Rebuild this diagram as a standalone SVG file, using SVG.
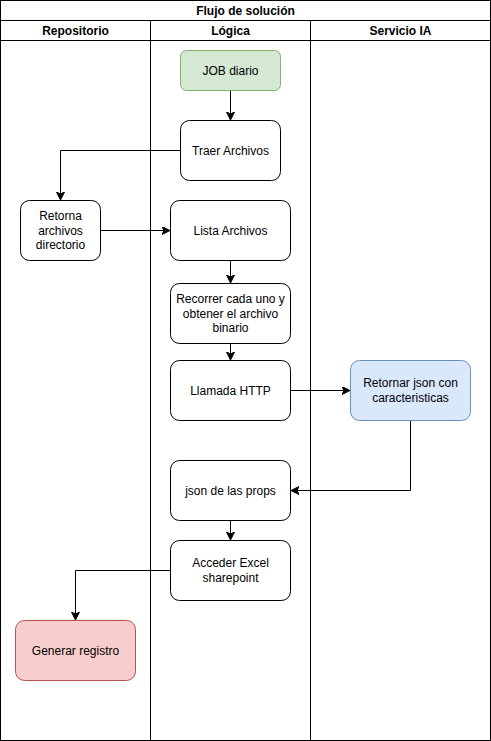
<svg xmlns="http://www.w3.org/2000/svg" width="491" height="741" viewBox="0 0 491 741">
<style>
text{font-family:"Liberation Sans",Arial,sans-serif;font-size:12px;fill:#000;text-anchor:middle}
.h{font-weight:bold}
.lane{fill:none;stroke:#000;stroke-width:1}
.n{fill:#fff;stroke:#000;stroke-width:1}
.g{fill:#d5e8d4;stroke:#82b366}
.b{fill:#dae8fc;stroke:#6c8ebf}
.r{fill:#f8cecc;stroke:#b85450}
.e{fill:none;stroke:#000;stroke-width:1;marker-end:url(#arr)}
</style>
<defs>
<marker id="arr" markerWidth="10" markerHeight="10" refX="7" refY="4" orient="auto" markerUnits="userSpaceOnUse">
<path d="M0,0 L8,4 L0,8 L2,4 Z" fill="#000" stroke="#000"/>
</marker>
</defs>
<rect width="491" height="741" fill="#fff"/>
<g id="pool">
<rect class="lane" x="0.5" y="0.5" width="490" height="740"/>
<line class="lane" x1="0.5" y1="20.5" x2="490.5" y2="20.5"/>
<line class="lane" x1="0.5" y1="40.5" x2="490.5" y2="40.5"/>
<line class="lane" x1="150.5" y1="20.5" x2="150.5" y2="740.5"/>
<line class="lane" x1="310.5" y1="20.5" x2="310.5" y2="740.5"/>
<text class="h" x="245.5" y="14.5">Flujo de solución</text>
<text class="h" x="75.5" y="34.5">Repositorio</text>
<text class="h" x="230.5" y="34.5">Lógica</text>
<text class="h" x="400.5" y="34.5">Servicio IA</text>
</g>
<g id="edges">
<path class="e" d="M230.5,90.5 V119"/>
<path class="e" d="M180.5,150.5 H60.5 V199"/>
<path class="e" d="M100.5,230.5 H169"/>
<path class="e" d="M230.5,260.5 V282"/>
<path class="e" d="M230.5,343.5 V359"/>
<path class="e" d="M290.5,390.5 H349"/>
<path class="e" d="M410.5,420.5 V490.5 H292"/>
<path class="e" d="M230.5,520.5 V539"/>
<path class="e" d="M170.5,570.5 H75.5 V619"/>
</g>
<g id="job"><rect class="g" x="180.5" y="50.5" width="100" height="40" rx="6"/><text x="230.5" y="74.5">JOB diario</text></g>
<g id="traer"><rect class="n" x="180.5" y="120.5" width="100" height="60" rx="9"/><text x="230.5" y="154.5">Traer Archivos</text></g>
<g id="retorna"><rect class="n" x="20.5" y="200.5" width="80" height="60" rx="9"/><text x="60.5" y="220">Retorna</text><text x="60.5" y="234.5">archivos</text><text x="60.5" y="249">directorio</text></g>
<g id="lista"><rect class="n" x="170.5" y="200.5" width="120" height="60" rx="9"/><text x="230.5" y="234.5">Lista Archivos</text></g>
<g id="recorrer"><rect class="n" x="170.5" y="283.5" width="120" height="60" rx="9"/><text x="230.5" y="303">Recorrer cada uno y</text><text x="230.5" y="317.5">obtener el archivo</text><text x="230.5" y="332">binario</text></g>
<g id="llamada"><rect class="n" x="170.5" y="360.5" width="120" height="60" rx="9"/><text x="230.5" y="394.5">Llamada HTTP</text></g>
<g id="retornar"><rect class="b" x="350.5" y="360.5" width="120" height="60" rx="9"/><text x="410.5" y="387">Retornar json con</text><text x="410.5" y="401.5">caracteristicas</text></g>
<g id="json"><rect class="n" x="170.5" y="460.5" width="120" height="60" rx="9"/><text x="230.5" y="494.5">json de las props</text></g>
<g id="acceder"><rect class="n" x="170.5" y="540.5" width="120" height="60" rx="9"/><text x="230.5" y="567">Acceder Excel</text><text x="230.5" y="581.5">sharepoint</text></g>
<g id="generar"><rect class="r" x="15.5" y="620.5" width="120" height="60" rx="9"/><text x="75.5" y="654.5">Generar registro</text></g>
</svg>
